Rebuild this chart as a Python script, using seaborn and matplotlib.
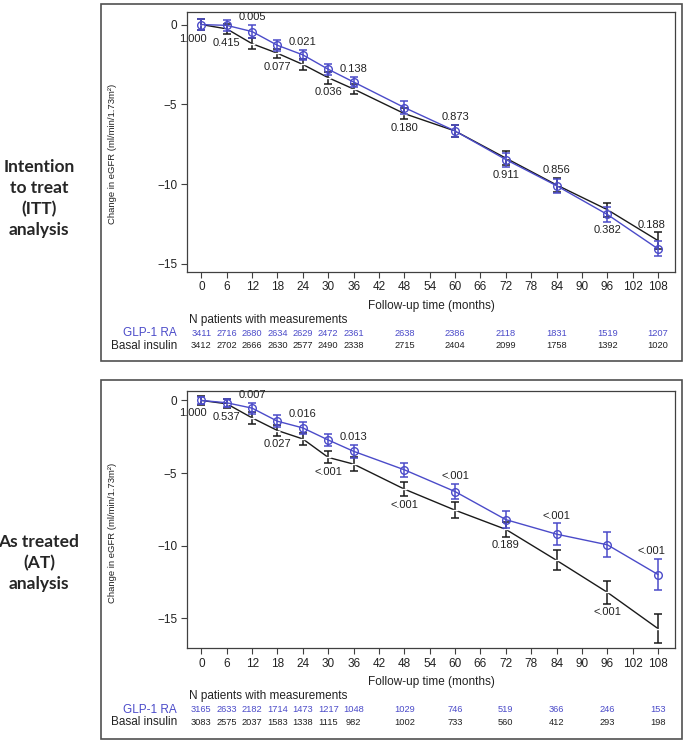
import matplotlib
matplotlib.use("Agg")
import matplotlib.pyplot as plt
import seaborn as sns
from matplotlib.patches import Rectangle

# follow-up months
months = [0, 6, 12, 18, 24, 30, 36, 48, 60, 72, 84, 96, 108]

# intention to treat
itt_glp = [0.0, -0.05, -0.44, -1.3, -1.9, -2.8, -3.6, -5.2, -6.67, -8.46, -10.1, -11.9, -14.06]
itt_glp_err = [0.36, 0.34, 0.4, 0.35, 0.31, 0.36, 0.31, 0.38, 0.36, 0.44, 0.45, 0.47, 0.47]
itt_basal = [0.0, -0.27, -1.2, -1.8, -2.5, -3.33, -4.04, -5.58, -6.67, -8.37, -10.05, -11.6, -13.54]
itt_basal_err = [0.36, 0.33, 0.36, 0.3, 0.33, 0.38, 0.34, 0.35, 0.38, 0.42, 0.45, 0.43, 0.52]
itt_p = ["1.000", "0.415", "0.005", "0.077", "0.021", "0.036", "0.138",
         "0.180", "0.873", "0.911", "0.856", "0.382", "0.188"]
itt_n_glp = [3411, 2716, 2680, 2634, 2629, 2472, 2361, 2638, 2386, 2118, 1831, 1519, 1207]
itt_n_basal = [3412, 2702, 2666, 2630, 2577, 2490, 2338, 2715, 2404, 2099, 1758, 1392, 1020]

# as treated
at_glp = [0.0, -0.16, -0.53, -1.43, -1.89, -2.72, -3.5, -4.77, -6.27, -8.2, -9.2, -9.93, -11.98]
at_glp_err = [0.23, 0.29, 0.38, 0.4, 0.4, 0.4, 0.46, 0.5, 0.52, 0.58, 0.75, 0.86, 1.08]
at_basal = [0.0, -0.23, -1.2, -2.07, -2.65, -3.92, -4.38, -6.1, -7.55, -8.87, -11.0, -13.2, -15.7]
at_basal_err = [0.28, 0.3, 0.4, 0.37, 0.43, 0.41, 0.48, 0.48, 0.55, 0.5, 0.69, 0.8, 0.98]
at_p = ["1.000", "0.537", "0.007", "0.027", "0.016", "<.001", "0.013",
        "<.001", "<.001", "0.189", "<.001", "<.001", "<.001"]
at_n_glp = [3165, 2633, 2182, 1714, 1473, 1217, 1048, 1029, 746, 519, 366, 246, 153]
at_n_basal = [3083, 2575, 2037, 1583, 1338, 1115, 982, 1002, 733, 560, 412, 293, 198]

BLUE = "#4B4BC9"
BLACK = "#1a1a1a"
AXC = "#404040"

sns.set_style("white")
plt.rcParams["font.family"] = ["Liberation Sans", "DejaVu Sans"]

W, H = 685, 742
fig = plt.figure(figsize=(W / 100, H / 100), dpi=100)


def draw_panel(ax, glp, glp_err, basal, basal_err, pvals, n_glp, n_basal, ylim, ylab_y):
    # black series first, blue on top
    ax.errorbar(months, basal, yerr=basal_err, fmt="none", ecolor=BLACK,
                elinewidth=1.1, capsize=3.2, capthick=1.1, zorder=3)
    sns.lineplot(x=months, y=basal, ax=ax, color=BLACK, lw=1.0, marker="_",
                 markersize=5, markeredgewidth=1.0, zorder=3)
    ax.errorbar(months, glp, yerr=glp_err, fmt="none", ecolor=BLUE,
                elinewidth=1.1, capsize=3.2, capthick=1.1, zorder=4)
    sns.lineplot(x=months, y=glp, ax=ax, color=BLUE, lw=1.0, marker="o",
                 markersize=5.5, markerfacecolor="none", markeredgecolor=BLUE,
                 markeredgewidth=1.0, zorder=4)

    # p-values: alternate above / below the pair of points
    for i, m in enumerate(months):
        above = i % 2 == 0 and i > 0
        dx = -6 if i == 0 else (-5 if i == len(months) - 1 else 0)
        if above:
            y = max(glp[i] + glp_err[i], basal[i] + basal_err[i])
            ax.annotate(pvals[i], (m, y), xytext=(dx, 2), textcoords="offset points",
                        ha="center", va="bottom", fontsize=8, color="#222222",
                        annotation_clip=False)
        else:
            y = min(glp[i] - glp_err[i], basal[i] - basal_err[i])
            ax.annotate(pvals[i], (m, y), xytext=(dx, -2.5), textcoords="offset points",
                        ha="center", va="top", fontsize=8, color="#222222",
                        annotation_clip=False)

    ax.set_xlim(-3.4, 112)
    ax.set_ylim(*ylim)
    ax.set_xticks(range(0, 109, 6))
    ax.set_yticks([0, -5, -10, -15])
    ax.tick_params(axis="both", labelsize=8.5, length=4, width=0.8, color=AXC,
                   labelcolor="#222222", pad=3, bottom=True, left=True)
    for s in ax.spines.values():
        s.set_color(AXC)
        s.set_linewidth(0.9)
    ax.set_xlabel("")
    ax.set_ylabel("Change in eGFR (ml/min/1.73m²)", fontsize=6.8, color="#222222")
    ax.yaxis.set_label_coords(-0.143, ylab_y)

    # x label and patient-number table below the axes
    ax.annotate("Follow-up time (months)", (0.5, 0), xycoords="axes fraction",
                xytext=(0, -24.5), textcoords="offset points", ha="center",
                va="center", fontsize=8.5, color="#222222")
    ax.annotate("N patients with measurements", (0.004, 0), xycoords="axes fraction",
                xytext=(0, -34.5), textcoords="offset points", ha="left",
                va="center", fontsize=8.5, color="#222222")
    ax.annotate("GLP-1 RA", (-0.02, 0), xycoords="axes fraction",
                xytext=(0, -44.5), textcoords="offset points", ha="right",
                va="center", fontsize=8.5, color=BLUE)
    ax.annotate("Basal insulin", (-0.02, 0), xycoords="axes fraction",
                xytext=(0, -53.5), textcoords="offset points", ha="right",
                va="center", fontsize=8.5, color="#222222")
    for m, a, b in zip(months, n_glp, n_basal):
        ax.annotate(str(a), (m, 0), xycoords=("data", "axes fraction"),
                    xytext=(0, -44.5), textcoords="offset points", ha="center",
                    va="center", fontsize=6.7, color=BLUE)
        ax.annotate(str(b), (m, 0), xycoords=("data", "axes fraction"),
                    xytext=(0, -53.5), textcoords="offset points", ha="center",
                    va="center", fontsize=6.7, color="#222222")


ax1 = fig.add_axes([187 / W, 1 - 271.6 / H, 488 / W, 259.8 / H])
draw_panel(ax1, itt_glp, itt_glp_err, itt_basal, itt_basal_err, itt_p,
           itt_n_glp, itt_n_basal, (-15.48, 0.8), 0.453)

ax2 = fig.add_axes([187 / W, 1 - 648 / H, 488 / W, 257 / H])
draw_panel(ax2, at_glp, at_glp_err, at_basal, at_basal_err, at_p,
           at_n_glp, at_n_basal, (-17.03, 0.65), 0.447)

# frames around the two panels
for top, bottom in [(4, 361), (380, 739)]:
    fig.patches.append(Rectangle((101 / W, 1 - bottom / H), 581 / W, (bottom - top) / H,
                                 transform=fig.transFigure, fill=False,
                                 edgecolor="#505050", lw=1.2))

fig.text(39 / W, 1 - 198.5 / H, "Intention\nto treat\n(ITT)\nanalysis", ha="center",
         va="center", fontsize=12.5, fontweight="bold", linespacing=1.38,
         family=["Lato", "DejaVu Sans"])
fig.text(39 / W, 1 - 563 / H, "As treated\n(AT)\nanalysis", ha="center",
         va="center", fontsize=12.5, fontweight="bold", linespacing=1.38,
         family=["Lato", "DejaVu Sans"])

fig.savefig("out.png", dpi=100)
